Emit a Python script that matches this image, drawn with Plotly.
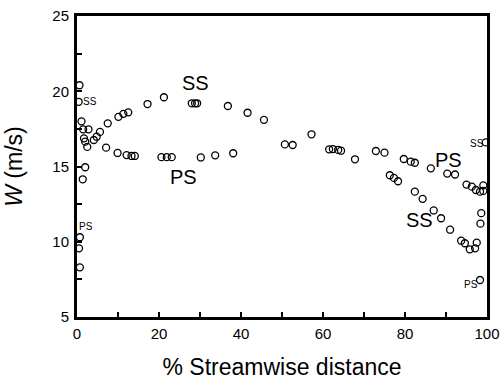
import plotly.graph_objects as go

# Suction side (SS) data
ss_x = [0.6, 0.4, 1.1, 1.5, 2.8, 4.1, 4.8, 5.6, 7.5, 10.1, 11.3, 12.5, 17.2, 21.2,
        28.0, 28.8, 29.3, 36.8, 41.6, 45.6, 57.2, 61.5, 62.4, 63.7, 64.4,
        76.3, 77.3, 78.3, 82.4, 84.3, 87.0, 88.8, 91.0, 93.7, 94.6, 95.8, 97.1,
        97.5, 98.4, 98.6, 99.1, 99.7]
ss_y = [20.4, 19.3, 18.0, 17.47, 17.47, 16.76, 16.98, 17.3, 17.87, 18.3, 18.5, 18.6, 19.15, 19.6,
        19.2, 19.2, 19.2, 19.02, 18.57, 18.1, 17.14, 16.14, 16.16, 16.1, 16.05,
        14.42, 14.24, 14.02, 13.33, 12.85, 12.08, 11.56, 10.8, 10.07, 9.9, 9.5, 9.56,
        9.94, 11.2, 11.9, 13.75, 16.6]

# Pressure side (PS) data
ps_x = [0.7, 0.5, 0.7, 1.4, 2.0, 2.5, 2.0, 1.7, 7.1, 9.9, 12.1, 13.3, 14.1, 20.6, 21.9, 23.1,
        30.2, 33.7, 38.1, 50.7, 52.6, 67.8, 72.9, 75.0, 79.7, 81.4, 82.4, 86.3,
        90.3, 92.2, 95.0, 96.3, 97.3, 98.3, 99.1, 98.3]
ps_y = [8.3, 9.56, 10.3, 14.15, 14.95, 16.3, 16.65, 16.87, 16.25, 15.9, 15.76, 15.7, 15.7, 15.62, 15.62, 15.62,
        15.6, 15.74, 15.88, 16.47, 16.43, 15.48, 16.03, 15.92, 15.5, 15.32, 15.25, 14.88,
        14.53, 14.47, 13.8, 13.66, 13.44, 13.33, 13.38, 7.46]

x_ticks = [0, 20, 40, 60, 80, 100]
y_ticks = [5, 10, 15, 20, 25]

# labels: (text, x, y, size)
labels = [("SS", 28.8, 20.55, 20), ("PS", 26.0, 14.3, 20),
          ("PS", 90.6, 15.46, 20), ("SS", 83.5, 11.45, 20),
          ("SS", 3.2, 19.35, 10), ("PS", 2.2, 11.0, 10),
          ("SS", 97.6, 16.56, 10), ("PS", 96.2, 7.13, 10)]

FONT = "Liberation Sans, Arial, sans-serif"
marker = dict(symbol="circle-open", size=7, color="black", line=dict(width=1.3, color="black"))

fig = go.Figure()
fig.add_trace(go.Scatter(x=ss_x, y=ss_y, mode="markers", marker=marker, name="SS", cliponaxis=False))
fig.add_trace(go.Scatter(x=ps_x, y=ps_y, mode="markers", marker=marker, name="PS", cliponaxis=False))

for t, x, y, s in labels:
    fig.add_annotation(x=x, y=y, text=t, showarrow=False,
                       font=dict(family=FONT, size=s, color="black"))

fig.update_layout(
    width=500, height=380,
    margin=dict(l=77, r=13, t=16, b=63),
    paper_bgcolor="white", plot_bgcolor="white",
    showlegend=False,
    font=dict(family=FONT, color="black"),
)
fig.update_xaxes(
    range=[0, 100], tickvals=x_ticks, ticks="inside", ticklen=5, tickwidth=2,
    tickcolor="black", showline=True, linewidth=3, linecolor="black", mirror=True,
    showgrid=False, zeroline=False, tickfont=dict(size=15), automargin=False,
    ticklabelstandoff=1,
    minor=dict(dtick=10, ticks="inside", ticklen=5, tickwidth=2, tickcolor="black"),
    title=dict(text="% Streamwise distance", font=dict(size=23), standoff=21),
)
fig.update_yaxes(
    range=[5, 25], tickvals=y_ticks, ticks="inside", ticklen=5, tickwidth=2,
    tickcolor="black", showline=True, linewidth=3, linecolor="black", mirror=True,
    showgrid=False, zeroline=False, tickfont=dict(size=15), automargin=False,
    ticklabelstandoff=2,
    minor=dict(dtick=2.5, ticks="inside", ticklen=5, tickwidth=2, tickcolor="black"),
    title=dict(text="<i>W</i> (m/s)", font=dict(size=23), standoff=24),
)

fig.write_html("out.html")
